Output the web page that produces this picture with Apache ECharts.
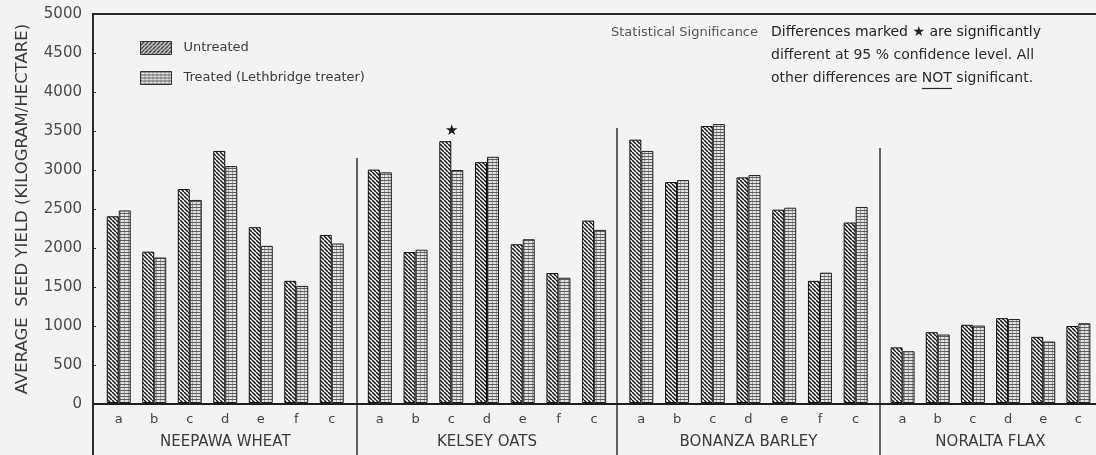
<!DOCTYPE html>
<html>
<head>
<meta charset="utf-8">
<script src="https://cdn.jsdelivr.net/npm/echarts@6/dist/echarts.min.js"></script>
<style>
  html, body { margin: 0; padding: 0; background: #f2f3f2; }
  #chart { width: 1096px; height: 455px; }
</style>
</head>
<body>
<div id="chart"></div>
<script>
// ---- data ----
const crops = ['NEEPAWA WHEAT', 'KELSEY OATS', 'BONANZA BARLEY', 'NORALTA FLAX'];
const varieties = [
  ['a', 'b', 'c', 'd', 'e', 'f', 'c'],
  ['a', 'b', 'c', 'd', 'e', 'f', 'c'],
  ['a', 'b', 'c', 'd', 'e', 'f', 'c'],
  ['a', 'b', 'c', 'd', 'e', 'c']
];
const untreated = [
  [2400, 1945, 2750, 3240, 2260, 1570, 2160],
  [3000, 1940, 3365, 3095, 2040, 1670, 2345],
  [3385, 2840, 3560, 2900, 2485, 1570, 2320],
  [715, 910, 1005, 1090, 850, 990]
];
const treated = [
  [2475, 1870, 2610, 3045, 2020, 1505, 2050],
  [2965, 1970, 2995, 3165, 2105, 1610, 2225],
  [3240, 2865, 3585, 2930, 2510, 1675, 2520],
  [665, 880, 995, 1080, 790, 1025]
];
// significant differences (crop index, variety index)
const significant = [[1, 2]];
const yTicks = [0, 500, 1000, 1500, 2000, 2500, 3000, 3500, 4000, 4500, 5000];
const seriesNames = ['Untreated', 'Treated (Lethbridge treater)'];

// ---- layout / style ----
const FONT = '"DejaVu Sans", sans-serif';
const PLOT_TOP = 14, PLOT_BOTTOM = 51, AXIS_X = 93, AXIS_Y = 404;
const cropGrids = [
  { left: 101, width: 248.5 },
  { left: 362, width: 250 },
  { left: 623.5, width: 250 },
  { left: 885, width: 214.5 }
];
const dividers = [{ x: 357, top: 158 }, { x: 617, top: 128 }, { x: 880, top: 148 }];

function makePattern(kind) {
  const c = document.createElement('canvas');
  const ctx = c.getContext('2d');
  if (kind === 'back' || kind === 'fwd') {
    const s = 4;
    c.width = s; c.height = s;
    ctx.fillStyle = '#ffffff';
    ctx.fillRect(0, 0, s, s);
    ctx.strokeStyle = '#151515';
    ctx.lineWidth = 1.5;
    for (let k = -1; k <= 1; k++) {
      ctx.beginPath();
      if (kind === 'back') { ctx.moveTo(k * s, 0); ctx.lineTo(k * s + s, s); }
      else { ctx.moveTo(k * s, s); ctx.lineTo(k * s + s, 0); }
      ctx.stroke();
    }
  } else {
    c.width = 4; c.height = 3;
    ctx.fillStyle = '#e2e2e2';
    ctx.fillRect(0, 0, 4, 3);
    ctx.fillStyle = '#5e5e5e';
    ctx.fillRect(0, 0, 4, 1);
    ctx.fillStyle = '#a0a0a0';
    ctx.fillRect(0, 1, 1, 2);
  }
  return { image: c, repeat: 'repeat' };
}
const patUntreated = makePattern('back');
const patUntreatedLegend = makePattern('fwd');
const patTreated = makePattern('grid');

const grids = [{ left: AXIS_X, right: 0, top: PLOT_TOP, bottom: PLOT_BOTTOM }];
const xAxes = [
  { gridIndex: 0, type: 'value', min: 0, max: 1, position: 'bottom',
    axisLine: { show: true, lineStyle: { color: '#1e1e1e', width: 2 } },
    axisTick: { show: false }, axisLabel: { show: false }, splitLine: { show: false } },
  { gridIndex: 0, type: 'value', min: 0, max: 1, position: 'top',
    axisLine: { show: true, lineStyle: { color: '#2a2a2a', width: 2 } },
    axisTick: { show: false }, axisLabel: { show: false }, splitLine: { show: false } }
];
const yAxes = [
  { gridIndex: 0, type: 'value', min: 0, max: 5000, interval: 500,
    name: 'AVERAGE  SEED YIELD (KILOGRAM/HECTARE)', nameLocation: 'middle', nameGap: 62,
    nameTextStyle: { fontFamily: FONT, fontSize: 16.5, color: '#3a3a3a' },
    axisLine: { show: true, lineStyle: { color: '#2a2a2a', width: 2 } },
    axisTick: { show: true, inside: true, length: 3, lineStyle: { color: '#2a2a2a' } },
    axisLabel: { fontFamily: FONT, fontSize: 15, color: '#4a4a4a', margin: 11,
      formatter: v => (yTicks.indexOf(v) >= 0 ? String(v) : '') },
    splitLine: { show: false } }
];
const series = [];
crops.forEach((crop, i) => {
  const gi = i + 1;
  grids.push({ left: cropGrids[i].left, width: cropGrids[i].width, top: PLOT_TOP, bottom: PLOT_BOTTOM });
  xAxes.push({ gridIndex: gi, type: 'category', data: varieties[i],
    name: crop, nameLocation: 'middle', nameGap: 32,
    nameTextStyle: { fontFamily: FONT, fontSize: 15, color: '#3a3a3a' },
    axisLine: { show: false }, axisTick: { show: false },
    axisLabel: { fontFamily: FONT, fontSize: 13, color: '#444', margin: 10 } });
  yAxes.push({ gridIndex: gi, type: 'value', min: 0, max: 5000, show: false });
  series.push({
    name: seriesNames[0], type: 'bar', xAxisIndex: gi + 1, yAxisIndex: gi,
    barWidth: 12, barGap: '0%',
    itemStyle: { color: patUntreated, borderColor: '#111', borderWidth: 1 },
    data: untreated[i].map((v, j) => {
      const sig = significant.some(s => s[0] === i && s[1] === j);
      return sig ? { value: v, label: { show: true, formatter: '★', position: 'top', distance: 3,
        offset: [6, 0], fontSize: 15, color: '#1a1a1a' } } : v;
    })
  });
  series.push({
    name: seriesNames[1], type: 'bar', xAxisIndex: gi + 1, yAxisIndex: gi,
    barWidth: 12, barGap: '0%',
    itemStyle: { color: patTreated, borderColor: '#222', borderWidth: 1 },
    data: treated[i]
  });
});

// measure for underline under "NOT"
const mctx = document.createElement('canvas').getContext('2d');
const NOTE_FONT = '14px ' + FONT;
mctx.font = NOTE_FONT;
const noteX = 771;
const preW = mctx.measureText('other differences are ').width;
const notW = mctx.measureText('NOT').width;

const graphic = [
  { type: 'text', left: 611, top: 26, style: { text: 'Statistical Significance', font: '13px ' + FONT, fill: '#555' } },
  { type: 'text', left: noteX, top: 25, style: { text: 'Differences marked ★ are significantly', font: NOTE_FONT, fill: '#222' } },
  { type: 'text', left: noteX, top: 48, style: { text: 'different at 95 % confidence level. All', font: NOTE_FONT, fill: '#2a2a2a' } },
  { type: 'text', left: noteX, top: 71, style: { text: 'other differences are NOT significant.', font: NOTE_FONT, fill: '#2a2a2a' } },
  { type: 'line', shape: { x1: noteX + preW, y1: 88.5, x2: noteX + preW + notW, y2: 88.5 }, style: { stroke: '#2a2a2a', lineWidth: 1.2 } },
  { type: 'line', shape: { x1: AXIS_X, y1: AXIS_Y, x2: AXIS_X, y2: 455 }, style: { stroke: '#2a2a2a', lineWidth: 2 } }
];
dividers.forEach(d => {
  graphic.push({ type: 'line', shape: { x1: d.x, y1: d.top, x2: d.x, y2: 455 }, style: { stroke: '#333', lineWidth: 1.5 } });
});

const chart = echarts.init(document.getElementById('chart'), null, { renderer: 'canvas' });
chart.setOption({
  backgroundColor: '#f2f3f2',
  animation: false,
  legend: {
    orient: 'vertical', left: 140, top: 41, padding: 0, itemWidth: 31, itemHeight: 13, itemGap: 16,
    icon: 'rect',
    itemStyle: { borderColor: '#333', borderWidth: 1 },
    textStyle: { fontFamily: FONT, fontSize: 13, color: '#3a3a3a', padding: [0, 0, 0, 7] },
    data: [
      { name: seriesNames[0], itemStyle: { color: patUntreatedLegend } },
      { name: seriesNames[1], itemStyle: { color: patTreated } }
    ]
  },
  grid: grids,
  xAxis: xAxes,
  yAxis: yAxes,
  series: series,
  graphic: graphic
});
</script>
</body>
</html>
